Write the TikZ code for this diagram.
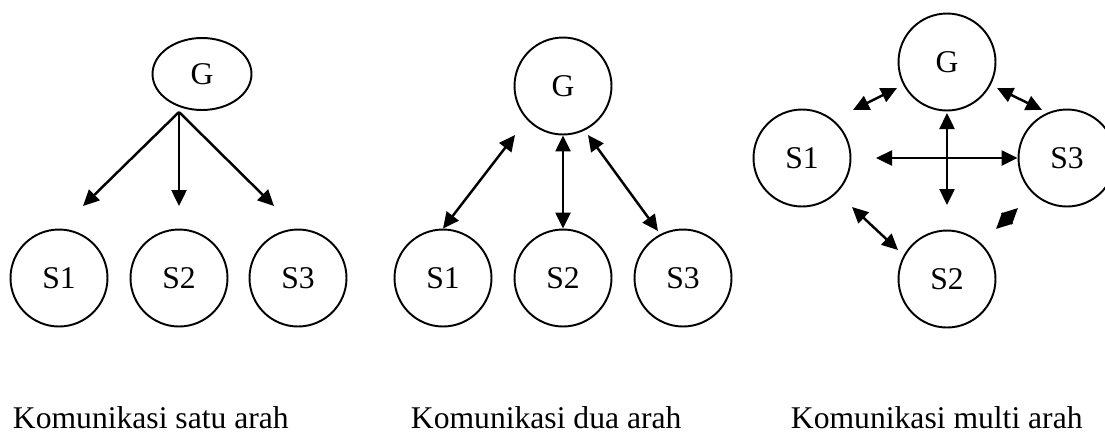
\documentclass[tikz,border=0pt]{standalone}
\usepackage{fontspec}
\setmainfont{Liberation Serif}
\usetikzlibrary{arrows.meta,shapes.geometric}
\begin{document}
\begin{tikzpicture}[
x=0.02cm,y=-0.02cm,
font=\fontsize{18}{21}\selectfont,
line width=1.1pt,
every node/.style={circle,draw,minimum size=19.4mm,inner sep=0pt},
arr/.style={line width=1.4pt,-{Triangle[length=3.2mm,width=3mm]}},
biarr/.style={line width=1.4pt,{Triangle[length=3.2mm,width=3mm]}-{Triangle[length=3.2mm,width=3mm]}},
caption/.style={draw=none,rectangle,minimum size=0pt,anchor=base west}
]
\useasboundingbox (0,0) rectangle (1105,434);
\node[ellipse,minimum width=19.8mm,minimum height=14.4mm] (g1) at (202,74) {G};
\node (s11) at (59,278) {S1};
\node (s12) at (179,278) {S2};
\node (s13) at (298,278) {S3};
\coordinate (top1) at (179,112);
\coordinate (t11) at (83,206);
\coordinate (t12) at (179,206);
\coordinate (t13) at (274,206);
\draw[arr] (top1)--(t11);
\draw[arr] (top1)--(t12);
\draw[arr] (top1)--(t13);

\node (g2) at (563,86) {G};
\node (s21) at (443,278) {S1};
\node (s22) at (563,278) {S2};
\node (s23) at (683,278) {S3};
\coordinate (e21) at (515,135);
\coordinate (e23a) at (588,135);
\coordinate (e23b) at (658,231);
\draw[biarr] (s21.north)--(e21);
\draw[biarr] (g2.south)--(s22.north);
\draw[biarr] (e23a)--(e23b);

\node (g3) at (947,62) {G};
\node (s31) at (802,158) {S1};
\node (s33) at (1067,158) {S3};
\node (s32) at (947,279) {S2};
\coordinate (a1) at (853,110);
\coordinate (a2) at (897,88);
\coordinate (b1) at (997,88);
\coordinate (b2) at (1042,110);
\coordinate (h1) at (876,158);
\coordinate (v1) at (947,113);
\coordinate (v2) at (947,205);
\coordinate (c1) at (852,207);
\coordinate (c2) at (898,250);
\coordinate (d1) at (1018,208);
\coordinate (d2) at (996,229);
\draw[biarr] (a1)--(a2);
\draw[biarr] (b1)--(b2);
\draw[biarr] (h1)--(s33.west);
\draw[biarr] (v1)--(v2);
\draw[biarr] (c1)--(c2);
\draw[biarr] (d1)--(d2);

\node[caption] (cap1) at (12,428) {Komunikasi satu arah};
\node[caption] (cap2) at (410,428) {Komunikasi dua arah};
\node[caption] (cap3) at (790,428) {Komunikasi multi arah};
\end{tikzpicture}
\end{document}
